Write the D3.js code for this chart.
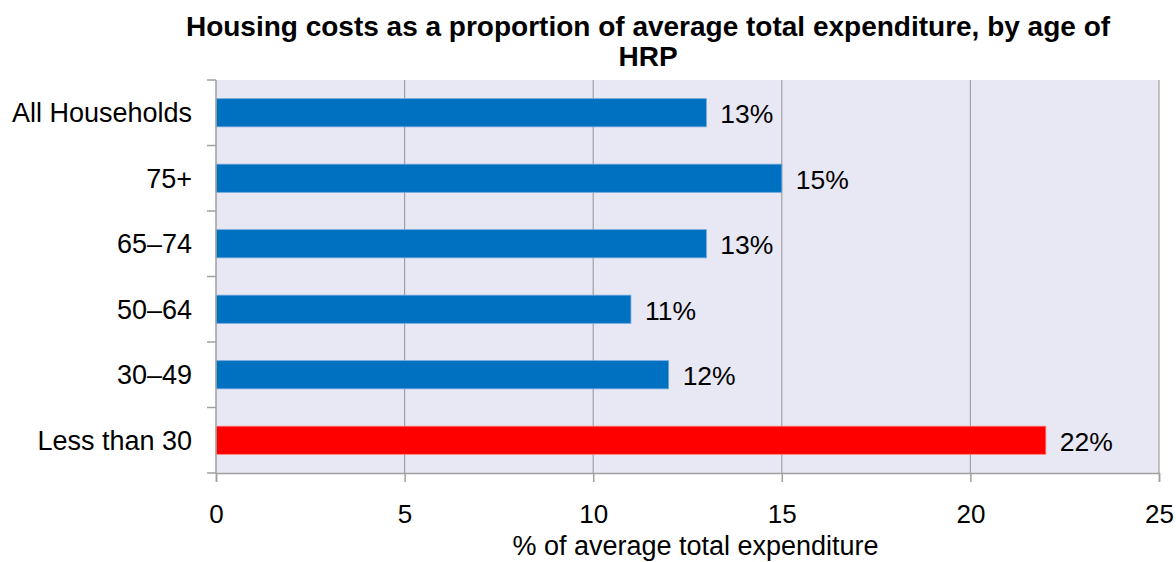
<!DOCTYPE html>
<html>
<head>
<meta charset="utf-8">
<script src="https://cdn.jsdelivr.net/npm/d3@7"></script>
<style>
  html, body { margin: 0; padding: 0; background: #fff; }
  svg { display: block; font-family: "Liberation Sans", Arial, sans-serif; }
</style>
</head>
<body>
<svg id="chart" width="1176" height="562"></svg>
<script>
const categories = ["All Households", "75+", "65\u201374", "50\u201364", "30\u201349", "Less than 30"];
const values = [13, 15, 13, 11, 12, 22];
const labels = ["13%", "15%", "13%", "11%", "12%", "22%"];
const barColors = ["#0070C0", "#0070C0", "#0070C0", "#0070C0", "#0070C0", "#FF0000"];
const xTicks = [0, 5, 10, 15, 20, 25];
const titleLines = ["Housing costs as a proportion of average total expenditure, by age of", "HRP"];
const xAxisTitle = "% of average total expenditure";

const svg = d3.select("#chart");
const margin = {left: 216, right: 17, top: 80, bottom: 89};
const W = 1176, H = 562;
const x = d3.scaleLinear().domain([0, 25]).range([margin.left, W - margin.right]);
const y = d3.scaleBand().domain(categories).range([margin.top, H - margin.bottom]).paddingInner(0.57).paddingOuter(0.285);
const band = d3.scaleBand().domain(categories).range([margin.top, H - margin.bottom]);

// plot background
svg.append("rect")
  .attr("x", x(0)).attr("y", margin.top)
  .attr("width", x(25) - x(0)).attr("height", H - margin.bottom - margin.top)
  .attr("fill", "#E8E8F5");

// vertical gridlines
svg.append("g").selectAll("line").data(xTicks.filter(d => d > 0)).join("line")
  .attr("x1", d => x(d)).attr("x2", d => x(d))
  .attr("y1", margin.top).attr("y2", H - margin.bottom)
  .attr("stroke", "#A0A0A0").attr("stroke-width", 1.2);

// bars
svg.append("g").selectAll("rect").data(categories).join("rect")
  .attr("x", x(0))
  .attr("y", d => y(d))
  .attr("width", (d, i) => x(values[i]) - x(0))
  .attr("height", y.bandwidth())
  .attr("fill", (d, i) => barColors[i])
  .attr("stroke", (d, i) => i === 5 ? "#FF8080" : "#6FA8DC")
  .attr("stroke-width", 0.8);

// value labels
svg.append("g").selectAll("text").data(categories).join("text")
  .attr("x", (d, i) => x(values[i]) + 14)
  .attr("y", d => y(d) + y.bandwidth() / 2 + 1)
  .attr("dy", "0.35em")
  .attr("font-size", 26.5)
  .attr("fill", "#000")
  .text((d, i) => labels[i]);

// y axis
const yAxis = svg.append("g");
yAxis.append("line")
  .attr("x1", x(0)).attr("x2", x(0))
  .attr("y1", margin.top).attr("y2", H - margin.bottom)
  .attr("stroke", "#A0A0A0").attr("stroke-width", 1.5);
const yTickPos = categories.map(c => band(c)).concat([H - margin.bottom]);
yAxis.selectAll("line.tick").data(yTickPos).join("line").attr("class", "tick")
  .attr("x1", x(0) - 9).attr("x2", x(0))
  .attr("y1", d => d).attr("y2", d => d)
  .attr("stroke", "#A0A0A0").attr("stroke-width", 1.5);
yAxis.selectAll("text").data(categories).join("text")
  .attr("x", x(0) - 24)
  .attr("y", d => band(d) + band.bandwidth() / 2)
  .attr("dy", "0.35em")
  .attr("text-anchor", "end")
  .attr("font-size", 27)
  .attr("fill", "#000")
  .text(d => d);

// x axis
const xAxis = svg.append("g").attr("transform", `translate(0,${H - margin.bottom})`)
  .call(d3.axisBottom(x).tickValues(xTicks).tickSize(9).tickPadding(23).tickFormat(d3.format("d")));
xAxis.select(".domain").attr("stroke", "#A0A0A0").attr("stroke-width", 1.5);
xAxis.selectAll(".tick line").attr("stroke", "#A0A0A0").attr("stroke-width", 1.5);
xAxis.selectAll(".tick text").attr("font-size", 26).attr("fill", "#000")
  .attr("font-family", "'Liberation Sans', Arial, sans-serif");

// x axis title
svg.append("text")
  .attr("x", (x(0) + x(25)) / 2 + 8).attr("y", 555)
  .attr("text-anchor", "middle")
  .attr("font-size", 27)
  .attr("fill", "#000")
  .text(xAxisTitle);

// title
svg.append("g").selectAll("text").data(titleLines).join("text")
  .attr("x", 648).attr("y", (d, i) => 36 + i * 30)
  .attr("text-anchor", "middle")
  .attr("font-size", 28)
  .attr("font-weight", "bold")
  .attr("fill", "#000")
  .text(d => d);
</script>
</body>
</html>
